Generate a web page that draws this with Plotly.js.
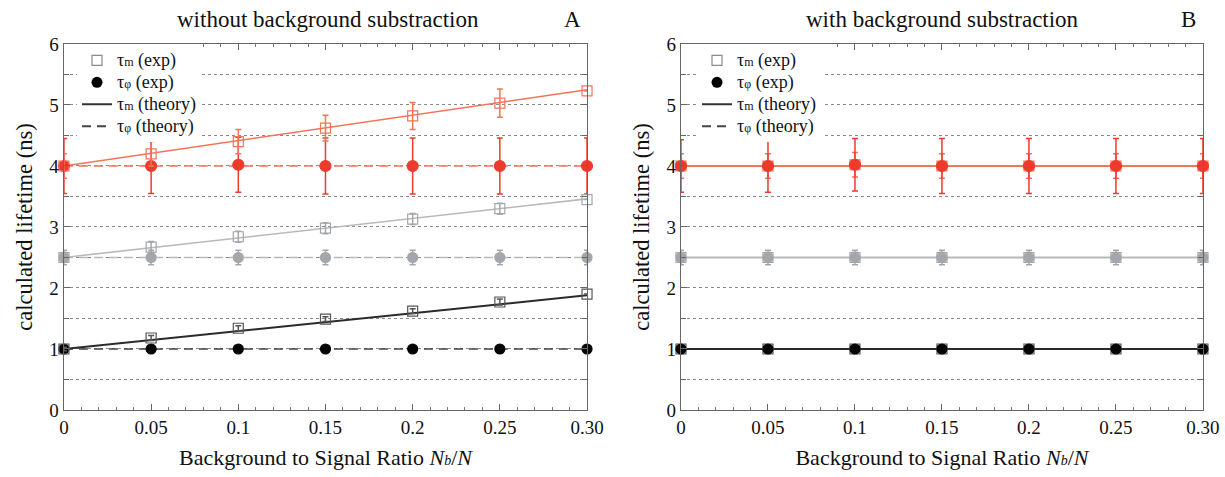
<!DOCTYPE html>
<html><head><meta charset="utf-8">
<script src="https://cdn.plot.ly/plotly-3.0.1.min.js"></script>
<style>html,body{margin:0;padding:0;background:#fff}#chart{width:1225px;height:477px}</style>
</head><body><div id="chart"></div>
<script>
// ---------- data ----------
const xVals = [0, 0.05, 0.10, 0.15, 0.20, 0.25, 0.30];
const xTickText = ['0', '0.05', '0.1', '0.15', '0.2', '0.25', '0.30'];
const theoryX = [0, 0.30];

// Panel A (without background substraction)
const aRedTmExp   = [4.00, 4.20, 4.40, 4.62, 4.82, 5.03, 5.23];
const aRedTmErr   = [0.20, 0.20, 0.20, 0.21, 0.22, 0.23, 0.00];
const aRedTpExp   = [4.00, 4.00, 4.02, 4.00, 4.00, 4.00, 4.00];
const aRedTpErr   = [0.45, 0.45, 0.45, 0.46, 0.46, 0.46, 0.46];
const aGrayTmExp  = [2.50, 2.67, 2.84, 2.98, 3.13, 3.30, 3.45];
const aGrayTmErr  = [0.08, 0.09, 0.09, 0.09, 0.09, 0.09, 0.00];
const aGrayTpExp  = [2.50, 2.50, 2.50, 2.50, 2.50, 2.50, 2.50];
const aGrayTpErr  = [0.12, 0.12, 0.12, 0.12, 0.12, 0.12, 0.12];
const aBlackTmExp = [1.00, 1.18, 1.34, 1.49, 1.62, 1.77, 1.90];
const aBlackTmErr = [0.03, 0.04, 0.04, 0.04, 0.04, 0.05, 0.00];
const aBlackTpExp = [1.00, 1.00, 1.00, 1.00, 1.00, 1.00, 1.00];
const aRedTmTheory   = [4.00, 5.25];
const aGrayTmTheory  = [2.50, 3.46];
const aBlackTmTheory = [1.00, 1.88];
const aRedTpTheory   = [4.00, 4.00];
const aGrayTpTheory  = [2.50, 2.50];
const aBlackTpTheory = [1.00, 1.00];

// Panel B (with background substraction)
const bRedTmExp   = [4.00, 4.00, 4.02, 4.00, 4.00, 4.00, 4.00];
const bRedTmErr   = [0.20, 0.20, 0.20, 0.20, 0.20, 0.20, 0.20];
const bRedTpExp   = [4.00, 4.00, 4.02, 4.00, 4.00, 4.00, 4.00];
const bRedTpErr   = [0.43, 0.43, 0.43, 0.45, 0.45, 0.45, 0.45];
const bGrayTmExp  = [2.50, 2.50, 2.50, 2.50, 2.50, 2.50, 2.50];
const bGrayTmErr  = [0.08, 0.08, 0.08, 0.08, 0.08, 0.08, 0.08];
const bGrayTpExp  = [2.50, 2.50, 2.50, 2.50, 2.50, 2.50, 2.50];
const bGrayTpErr  = [0.12, 0.12, 0.12, 0.12, 0.12, 0.12, 0.12];
const bBlackTmExp = [1.00, 1.00, 1.00, 1.00, 1.00, 1.00, 1.00];
const bBlackTpExp = [1.00, 1.00, 1.00, 1.00, 1.00, 1.00, 1.00];
const bRedTheory   = [4.00, 4.00];
const bGrayTheory  = [2.50, 2.50];
const bBlackTheory = [1.00, 1.00];

const SZ = function (s, px) { return '<span style="font-size:' + px + 'px">' + s + '</span>'; };
const legendLabels = [
  SZ('τ', 18) + SZ('m', 12) + SZ(' (exp)', 18),
  SZ('τ', 18) + SZ('φ', 12) + SZ(' (exp)', 18),
  SZ('τ', 18) + SZ('m', 12) + SZ(' (theory)', 18),
  SZ('τ', 18) + SZ('φ', 12) + SZ(' (theory)', 18)
];

// ---------- styles ----------
const RED_LINE = '#f4745a', RED_MK = '#ec3b2c';
const GRAY_LINE = '#b9b9b9', GRAY_MK = '#a3a7ab';
const BLACK_LINE = '#2a2a2a', BLACK_MK = '#050505';
const FONT = 'Liberation Serif';

const traces = [];
function line(xa, ya, y, color, dash, w) {
  traces.push({x: theoryX, y: y, xaxis: xa, yaxis: ya, mode: 'lines', showlegend: false, hoverinfo: 'skip',
    line: {color: color, width: w || 1.6, dash: dash ? '9px,6px' : 'solid'}});
}
function pts(xa, ya, y, err, color, symbol, size) {
  const t = {x: xVals, y: y, xaxis: xa, yaxis: ya, mode: 'markers', showlegend: false, cliponaxis: false,
    marker: {color: color, symbol: symbol, size: size, line: {color: color, width: 1.2}}};
  if (err) t.error_y = {type: 'data', array: err, visible: true, color: color, thickness: 1.5, width: 3};
  traces.push(t);
}
// Panel A
line('x', 'y', aRedTpTheory, RED_LINE, true);
line('x', 'y', aGrayTpTheory, GRAY_LINE, true);
line('x', 'y', aBlackTpTheory, '#444', true);
line('x', 'y', aRedTmTheory, RED_LINE, false);
line('x', 'y', aGrayTmTheory, GRAY_LINE, false);
line('x', 'y', aBlackTmTheory, BLACK_LINE, false, 2);
pts('x', 'y', aRedTpExp, aRedTpErr, RED_MK, 'circle', 11);
pts('x', 'y', aGrayTpExp, aGrayTpErr, GRAY_MK, 'circle', 10);
pts('x', 'y', aBlackTpExp, null, BLACK_MK, 'circle', 10);
pts('x', 'y', aRedTmExp, aRedTmErr, RED_LINE, 'square-open', 10);
pts('x', 'y', aGrayTmExp, aGrayTmErr, GRAY_MK, 'square-open', 10);
pts('x', 'y', aBlackTmExp, aBlackTmErr, '#555', 'square-open', 10);
// Panel B
line('x2', 'y2', bRedTheory, RED_LINE, false, 2);
line('x2', 'y2', bGrayTheory, GRAY_LINE, false, 2);
line('x2', 'y2', bBlackTheory, BLACK_LINE, false, 2);
pts('x2', 'y2', bRedTmExp, bRedTmErr, RED_LINE, 'square-open', 10);
pts('x2', 'y2', bGrayTmExp, bGrayTmErr, GRAY_MK, 'square-open', 10);
pts('x2', 'y2', bBlackTmExp, null, '#555', 'square-open', 10);
pts('x2', 'y2', bRedTpExp, bRedTpErr, RED_MK, 'circle', 11);
pts('x2', 'y2', bGrayTpExp, bGrayTpErr, GRAY_MK, 'circle', 10);
pts('x2', 'y2', bBlackTpExp, null, BLACK_MK, 'circle', 10);

// legend entries
['legend', 'legend2'].forEach(function (lg, k) {
  const xa = k ? 'x2' : 'x', ya = k ? 'y2' : 'y';
  traces.push({x: [null], y: [null], xaxis: xa, yaxis: ya, mode: 'markers', name: legendLabels[0], legend: lg,
    marker: {symbol: 'square-open', size: 10, color: '#8a8a8a', line: {width: 1.2}}});
  traces.push({x: [null], y: [null], xaxis: xa, yaxis: ya, mode: 'markers', name: legendLabels[1], legend: lg,
    marker: {symbol: 'circle', size: 11, color: '#000'}});
  traces.push({x: [null], y: [null], xaxis: xa, yaxis: ya, mode: 'lines', name: legendLabels[2], legend: lg,
    line: {color: '#333', width: 2}});
  traces.push({x: [null], y: [null], xaxis: xa, yaxis: ya, mode: 'lines', name: legendLabels[3], legend: lg,
    line: {color: '#444', width: 2, dash: '9px,6px'}});
});

function xaxis(dom, anchor) {
  return {domain: dom, anchor: anchor, range: [0, 0.30], tickvals: xVals, ticktext: xTickText,
    ticks: 'inside', ticklen: 6, tickcolor: '#666', showline: true, linecolor: '#666', linewidth: 1.3, mirror: 'allticks',
    showgrid: false, zeroline: false, tickfont: {family: FONT, size: 19, color: '#111'},
    minor: {dtick: 0.01, tick0: 0, ticks: 'inside', ticklen: 3, tickcolor: '#777', showgrid: false},
    title: {text: 'Background to Signal Ratio <i>N' + SZ('<i>b</i>', 14) + '</i>/<i>N</i>', font: {family: FONT, size: 22, color: '#111'}, standoff: 12}};
}
function yaxis(anchor) {
  return {domain: [0.1405, 0.9078], anchor: anchor, range: [0, 6], dtick: 1, tick0: 0,
    ticks: 'inside', ticklen: 6, tickcolor: '#666', showline: true, linecolor: '#666', linewidth: 1.3, mirror: 'allticks',
    showgrid: true, gridcolor: '#8a8a8a', griddash: 'dot', gridwidth: 1, zeroline: false,
    tickfont: {family: FONT, size: 19, color: '#111'},
    minor: {dtick: 0.5, tick0: 0, ticks: 'inside', ticklen: 5, tickcolor: '#666', showgrid: true, gridcolor: '#8a8a8a', griddash: 'dot', gridwidth: 1},
    title: {text: 'calculated lifetime (ns)', font: {family: FONT, size: 22.5, color: '#111'}, standoff: 10}};
}
const legendBase = {bgcolor: '#fff', borderwidth: 0, font: {family: FONT, size: 14.6, color: '#111'},
  yanchor: 'top', xanchor: 'left', itemwidth: 30, tracegroupgap: 0};

const layout = {
  width: 1225, height: 477, margin: {l: 0, r: 0, t: 0, b: 0},
  font: {family: FONT},
  paper_bgcolor: '#fff', plot_bgcolor: '#fff', showlegend: true,
  xaxis: xaxis([0.0522, 0.4792], 'y'), yaxis: yaxis('x'),
  xaxis2: xaxis([0.5559, 0.982], 'y2'), yaxis2: yaxis('x2'),
  legend: Object.assign({}, legendBase, {x: 77 / 1225, y: 0.907}),
  legend2: Object.assign({}, legendBase, {x: 697 / 1225, y: 0.907}),
  annotations: [
    {text: 'without background substraction', x: 328 / 1225, y: 1 - 20 / 477, xref: 'paper', yref: 'paper', xanchor: 'center', yanchor: 'middle', showarrow: false, font: {family: FONT, size: 23, color: '#111'}},
    {text: 'A', x: 572 / 1225, y: 1 - 20 / 477, xref: 'paper', yref: 'paper', xanchor: 'center', yanchor: 'middle', showarrow: false, font: {family: FONT, size: 23, color: '#111'}},
    {text: 'with background substraction', x: 942 / 1225, y: 1 - 20 / 477, xref: 'paper', yref: 'paper', xanchor: 'center', yanchor: 'middle', showarrow: false, font: {family: FONT, size: 23, color: '#111'}},
    {text: 'B', x: 1188 / 1225, y: 1 - 20 / 477, xref: 'paper', yref: 'paper', xanchor: 'center', yanchor: 'middle', showarrow: false, font: {family: FONT, size: 23, color: '#111'}}
  ]
};
Plotly.newPlot('chart', traces, layout, {staticPlot: true});
</script></body></html>
